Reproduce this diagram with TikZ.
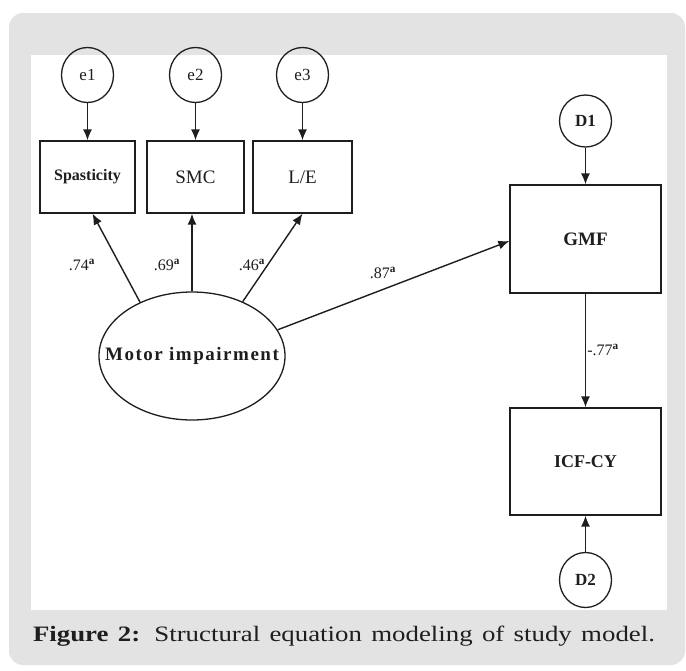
\documentclass[tikz,border=0pt]{standalone}
\usepackage{fontspec}
\setmainfont{Liberation Serif}
\newfontfamily\capfont[FakeStretch=1.22]{Liberation Serif}
\newfontfamily\mifont[LetterSpace=8]{Liberation Serif}
\usetikzlibrary{arrows.meta,shapes.geometric}
\definecolor{panelgray}{HTML}{E3E3E3}
\definecolor{ink}{HTML}{1E1E1E}
\newcommand\supa{\textsuperscript{\bfseries a}}
\begin{document}
\begin{tikzpicture}[x=1pt,y=-1pt,
  obs/.style={draw=ink,line width=1.3pt,rectangle,inner sep=0pt,text=ink},
  err/.style={draw=ink,line width=1.3pt,ellipse,minimum width=52pt,minimum height=55pt,inner sep=0pt,text=ink,font=\fontsize{17}{17}\selectfont},
  patharrow/.style={draw=ink,line width=1.4pt,-{Latex[length=11pt,width=9pt]}},
  coef/.style={text=ink,inner sep=0pt,font=\fontsize{16}{16}\selectfont}]
\useasboundingbox (0,0) rectangle (686,670);
\fill[panelgray, rounded corners=14pt] (9,13) rectangle (685,665);
\fill[white] (31,55) rectangle (667,610);
% error terms
\node[err] (e1) at (87.5,75) {e1};
\node[err] (e2) at (195.5,75) {e2};
\node[err] (e3) at (302.5,75) {e3};
\node[err,font=\fontsize{17}{17}\selectfont\bfseries,minimum height=52pt] (d1) at (585.5,121) {D1};
\node[err,font=\fontsize{17}{17}\selectfont\bfseries] (d2) at (585.5,580) {D2};
% observed
\node[obs,minimum width=95pt,minimum height=72pt,font=\fontsize{16}{16}\selectfont\bfseries] (spas) at (87.5,177) {Spasticity};
\node[obs,minimum width=97pt,minimum height=72pt,font=\fontsize{19}{19}\selectfont] (smc) at (195.5,177) {SMC};
\node[obs,minimum width=99pt,minimum height=72pt,font=\fontsize{19}{19}\selectfont] (le) at (302.5,177) {L/E};
\node[obs,minimum width=151pt,minimum height=108pt,font=\fontsize{19}{19}\selectfont\bfseries] (gmf) at (585.5,239) {GMF};
\node[obs,minimum width=151pt,minimum height=107pt,font=\fontsize{18}{18}\selectfont\bfseries] (icf) at (585.5,461.5) {ICF-CY};
% latent
\node[draw=ink,line width=1.3pt,ellipse,minimum width=186pt,minimum height=128pt,inner sep=0pt,text=ink] (mi) at (192,356)
  {\makebox[0pt]{\mifont\bfseries\fontsize{19}{19}\selectfont Motor impairment}};
% paths
\draw[patharrow] (e1) -- (spas);
\draw[patharrow] (e2) -- (smc);
\draw[patharrow] (e3) -- (le);
\draw[patharrow] (d1) -- (gmf);
\draw[patharrow] (d2) -- (icf);
\draw[patharrow] (mi.134) -- ([xshift=5pt]spas.south);
\draw[patharrow] (mi.north) -- (mi.north |- smc.south);
\draw[patharrow] (mi.47) -- (le.south);
\draw[patharrow] (mi.17) -- ([yshift=-2pt]gmf.west);
\draw[patharrow] (gmf) -- (icf);
% coefficients
\node[coef] (c74) at (82,265) {.74\supa};
\node[coef] (c69) at (167,265) {.69\supa};
\node[coef] (c46) at (252,265) {.46\supa};
\node[coef] (c87) at (383,273) {.87\supa};
\node[coef] (c77) at (603,350) {-.77\supa};
% caption
\node[text=ink,inner sep=0pt] (cap) at (344,636)
  {\capfont\fontsize{22}{22}\selectfont\makebox[622pt][s]{\textbf{Figure 2:} Structural equation modeling of study model.}};
\end{tikzpicture}
\end{document}
